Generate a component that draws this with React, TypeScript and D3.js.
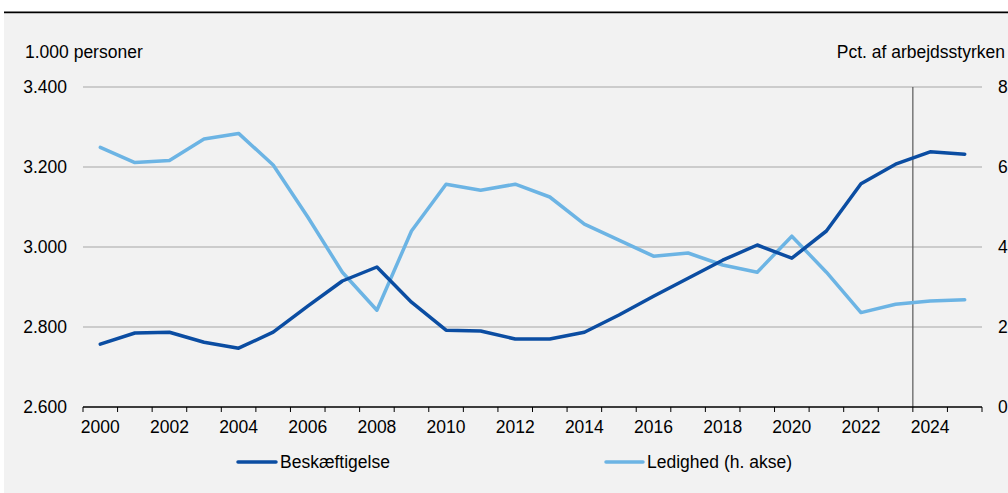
import React from "react";
import * as d3 from "d3";

const years = d3.range(2000, 2026).map(String);
const employment = [2757, 2785, 2787, 2762, 2747, 2787, 2852, 2915, 2950, 2862, 2792, 2790, 2770, 2770, 2787, 2830, 2877, 2922, 2967, 3005, 2972, 3040, 3158, 3207, 3238, 3232];
const unemployment = [6.49, 6.11, 6.16, 6.7, 6.84, 6.05, 4.75, 3.37, 2.42, 4.4, 5.57, 5.42, 5.57, 5.25, 4.57, 4.17, 3.77, 3.85, 3.55, 3.37, 4.27, 3.37, 2.36, 2.57, 2.65, 2.68];
const leftTicks = [2600, 2800, 3000, 3200, 3400];
const rightTicks = [0, 2, 4, 6, 8];
const xLabels = years.filter((y) => +y % 2 === 0);
const markerYear = "2024";

const W = 1008, H = 493;
const L = 83, R = 982, T = 87, B = 407;
const FONT = "'Liberation Sans', Arial, sans-serif";
const FS = 17.5;
const DARK = "#0b4da2";
const LIGHT = "#6cb4e4";

export default function App() {
  const x = d3.scaleBand().domain(years).range([L, R]).padding(0);
  const yL = d3.scaleLinear().domain([2600, 3400]).range([B, T]);
  const yR = d3.scaleLinear().domain([0, 8]).range([B, T]);
  const cx = (y: string) => (x(y) as number) + x.bandwidth() / 2;
  const lineL = d3.line<number>().x((_, i) => cx(years[i])).y((d) => yL(d));
  const lineR = d3.line<number>().x((_, i) => cx(years[i])).y((d) => yR(d));
  const boundaries = d3.range(years.length + 1).map((i) => L + i * x.bandwidth());
  const fmt = (v: number) => d3.format(",")(v).replace(/,/g, ".");

  return (
    <svg width={W} height={H} style={{ position: "absolute", left: 0, top: 0 }} fontFamily={FONT}>
      <rect x={0} y={0} width={W} height={H} fill="#ffffff" />
      <rect x={4} y={11.5} width={W - 4} height={2} fill="#000" />
      <rect x={4} y={13.5} width={W - 4} height={H - 13.5} fill="#f2f2f2" />

      <text x={25} y={58} fontSize={FS} fill="#000">1.000 personer</text>
      <text x={1005} y={58} fontSize={FS} fill="#000" textAnchor="end">Pct. af arbejdsstyrken</text>

      {leftTicks.slice(1).map((t) => (
        <line key={t} x1={L} x2={R} y1={yL(t)} y2={yL(t)} stroke="#a6a6a6" strokeWidth={1} />
      ))}
      {leftTicks.map((t) => (
        <text key={t} x={67} y={yL(t) + 6} fontSize={FS} textAnchor="end" fill="#000">{fmt(t)}</text>
      ))}
      {rightTicks.map((t) => (
        <text key={t} x={998} y={yR(t) + 6} fontSize={FS} fill="#000">{t}</text>
      ))}

      <line x1={x(markerYear) as number} x2={x(markerYear) as number} y1={T} y2={B} stroke="#595959" strokeWidth={1.2} />

      <line x1={L} x2={R} y1={B} y2={B} stroke="#000" strokeWidth={1.3} />
      {boundaries.map((bx, i) => (
        <line key={i} x1={bx} x2={bx} y1={B} y2={B + 5} stroke="#000" strokeWidth={1} />
      ))}
      {xLabels.map((y) => (
        <text key={y} x={cx(y)} y={433} fontSize={FS} textAnchor="middle" fill="#000">{y}</text>
      ))}

      <path d={lineR(unemployment) as string} fill="none" stroke={LIGHT} strokeWidth={3.5} strokeLinejoin="round" strokeLinecap="round" />
      <path d={lineL(employment) as string} fill="none" stroke={DARK} strokeWidth={3.5} strokeLinejoin="round" strokeLinecap="round" />

      <line x1={238} x2={276} y1={462} y2={462} stroke={DARK} strokeWidth={3.5} strokeLinecap="round" />
      <text x={280} y={468} fontSize={FS} fill="#000">Beskæftigelse</text>
      <line x1={606} x2={643} y1={462} y2={462} stroke={LIGHT} strokeWidth={3.5} strokeLinecap="round" />
      <text x={647} y={468} fontSize={FS} fill="#000">Ledighed (h. akse)</text>
    </svg>
  );
}
